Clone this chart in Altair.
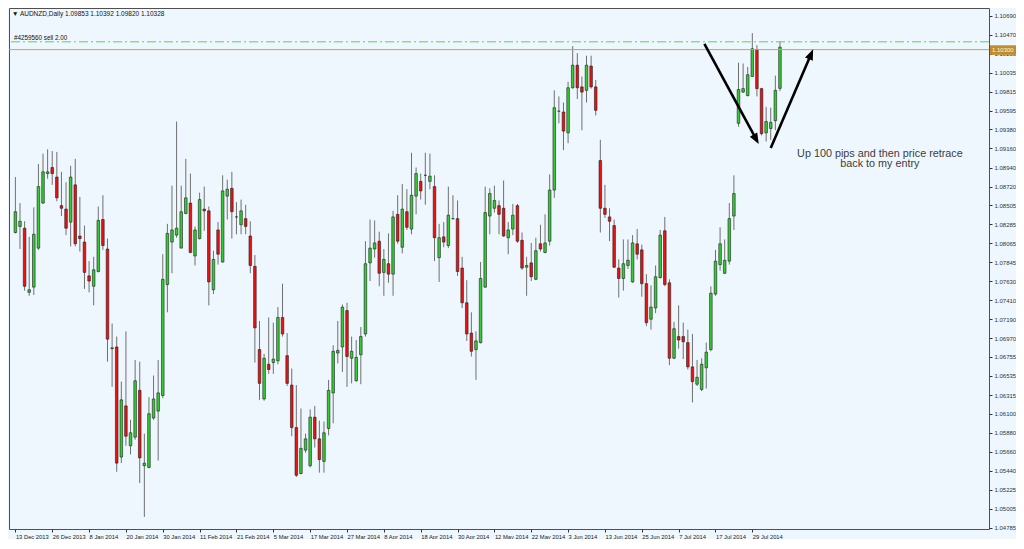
import altair as alt
import pandas as pd
import numpy as np

# ---- data (AUDNZD daily candles) ----
opens = [1.0819,1.0826,1.0824,1.0750,1.0756,1.0801,1.0853,1.0887,1.0894,1.0883,
         1.0850,1.0846,1.0831,1.0874,1.0815,1.0808,1.0769,1.0757,1.0774,1.0834,
         1.0800,1.0685,1.0687,1.0560,1.0619,1.0573,1.0583,1.0637,1.0550,1.0548,
         1.0605,1.0613,1.0631,1.0759,1.0808,1.0816,1.0801,1.0841,1.0853,1.0792,
         1.0812,1.0846,1.0844,1.0753,1.0822,1.0785,1.0861,1.0870,1.0837,1.0828,
         1.0835,1.0815,1.0780,1.0684,1.0627,1.0667,1.0669,1.0671,1.0721,1.0677,
         1.0643,1.0594,1.0541,1.0568,1.0550,1.0606,1.0581,1.0555,1.0593,1.0634,
         1.0680,1.0687,1.0729,1.0674,1.0648,1.0678,1.0702,1.0784,1.0800,1.0809,
         1.0773,1.0783,1.0771,1.0840,1.0802,1.0843,1.0823,1.0861,1.0878,1.0885,
         1.0878,1.0872,1.0790,1.0814,1.0804,1.0835,1.0835,1.0778,1.0738,1.0703,
         1.0684,1.0692,1.0756,1.0838,1.0847,1.0850,1.0847,1.0813,1.0823,1.0850,
         1.0810,1.0779,1.0784,1.0765,1.0806,1.0796,1.0809,1.0868,1.0959,1.0958,
         1.0934,1.0986,1.1012,1.0987,1.0983,1.1011,1.0987,1.0902,1.0847,1.0837,
         1.0827,1.0778,1.0766,1.0781,1.0762,1.0806,1.0799,1.0760,1.0719,1.0732,
         1.0767,1.0821,1.0761,1.0674,1.0699,1.0699,1.0692,1.0664,1.0644,1.0638,
         1.0663,1.0684,1.0748,1.0782,1.0772,1.0786,1.0838,1.0945,1.0981,1.0977,
         1.0999,1.1030,1.0985,1.0934,1.0939,1.0948,1.09853]
highs = [1.0883,1.0853,1.0832,1.0814,1.0848,1.0898,1.0910,1.0915,1.0913,1.0912,
         1.0889,1.0877,1.0896,1.0904,1.0860,1.0827,1.0786,1.0791,1.0849,1.0862,
         1.0812,1.0714,1.0699,1.0647,1.0705,1.0603,1.0672,1.0670,1.0587,1.0629,
         1.0654,1.0672,1.0794,1.0829,1.0873,1.0947,1.0873,1.0904,1.0887,1.0826,
         1.0865,1.0872,1.0849,1.0798,1.0831,1.0885,1.0880,1.0889,1.0854,1.0857,
         1.0851,1.0832,1.0793,1.0717,1.0679,1.0721,1.0715,1.0733,1.0760,1.0703,
         1.0662,1.0643,1.0616,1.0587,1.0615,1.0619,1.0602,1.0601,1.0649,1.0689,
         1.0717,1.0736,1.0738,1.0699,1.0695,1.0710,1.0809,1.0834,1.0833,1.0820,
         1.0800,1.0818,1.0844,1.0862,1.0875,1.0869,1.0911,1.0894,1.0887,1.0911,
         1.0910,1.0885,1.0829,1.0831,1.0872,1.0862,1.0856,1.0791,1.0764,1.0727,
         1.0705,1.0785,1.0872,1.0870,1.0873,1.0856,1.0879,1.0831,1.0852,1.0852,
         1.0819,1.0791,1.0807,1.0813,1.0828,1.0840,1.0886,1.0983,1.0976,1.0969,
         1.0993,1.1034,1.1026,1.0999,1.1023,1.1023,1.0995,1.0926,1.0874,1.0847,
         1.0834,1.0788,1.0811,1.0811,1.0816,1.0823,1.0805,1.0771,1.0758,1.0781,
         1.0822,1.0837,1.0765,1.0716,1.0735,1.0715,1.0707,1.0702,1.0672,1.0674,
         1.0692,1.0757,1.0799,1.0825,1.0811,1.0853,1.0885,1.1015,1.1014,1.1010,
         1.1049,1.1035,1.0986,1.0964,1.0963,1.1000,1.10392]
lows = [1.0818,1.0800,1.0752,1.0746,1.0747,1.0799,1.0852,1.0881,1.0874,1.0855,
        1.0838,1.0816,1.0803,1.0803,1.0797,1.0754,1.0750,1.0735,1.0773,1.0799,
        1.0670,1.0641,1.0543,1.0553,1.0573,1.0563,1.0580,1.0530,1.0491,1.0547,
        1.0603,1.0556,1.0628,1.0727,1.0772,1.0813,1.0801,1.0840,1.0795,1.0781,
        1.0811,1.0821,1.0735,1.0748,1.0782,1.0784,1.0834,1.0812,1.0817,1.0817,
        1.0817,1.0772,1.0669,1.0626,1.0625,1.0656,1.0656,1.0667,1.0699,1.0642,
        1.0584,1.0537,1.0540,1.0565,1.0548,1.0571,1.0542,1.0542,1.0585,1.0599,
        1.0668,1.0658,1.0641,1.0645,1.0647,1.0644,1.0699,1.0763,1.0790,1.0757,
        1.0746,1.0761,1.0746,1.0806,1.0795,1.0822,1.0817,1.0840,1.0857,1.0851,
        1.0869,1.0786,1.0762,1.0802,1.0801,1.0834,1.0769,1.0732,1.0694,1.0676,
        1.0649,1.0691,1.0755,1.0817,1.0842,1.0817,1.0814,1.0794,1.0816,1.0807,
        1.0776,1.0746,1.0763,1.0764,1.0797,1.0795,1.0804,1.0859,1.0945,1.0914,
        1.0922,1.0985,1.0973,1.0937,1.0969,1.0985,1.0954,1.0819,1.0836,1.0809,
        1.0778,1.0744,1.0752,1.0777,1.0761,1.0788,1.0745,1.0711,1.0707,1.0726,
        1.0766,1.0757,1.0666,1.0673,1.0685,1.0673,1.0661,1.0623,1.0642,1.0636,
        1.0639,1.0682,1.0746,1.0775,1.0771,1.0782,1.0822,1.0941,1.0980,1.0976,
        1.0999,1.0976,1.0931,1.0924,1.0926,1.0937,1.09820]
closes = [1.0843,1.0832,1.0757,1.0753,1.0817,1.0872,1.0889,1.0889,1.0887,1.0859,
          1.0847,1.0824,1.0883,1.0806,1.0812,1.0773,1.0763,1.0776,1.0833,1.0804,
          1.0696,1.0686,1.0553,1.0626,1.0584,1.0588,1.0648,1.0559,1.0553,1.0610,
          1.0627,1.0634,1.0765,1.0818,1.0822,1.0824,1.0843,1.0859,1.0796,1.0822,
          1.0857,1.0844,1.0762,1.0788,1.0794,1.0867,1.0869,1.0843,1.0837,1.0844,
          1.0826,1.0781,1.0709,1.0645,1.0674,1.0661,1.0673,1.0721,1.0702,1.0645,
          1.0594,1.0539,1.0570,1.0581,1.0606,1.0581,1.0557,1.0588,1.0637,1.0682,
          1.0683,1.0733,1.0676,1.0682,1.0675,1.0699,1.0783,1.0801,1.0807,1.0772,
          1.0788,1.0771,1.0837,1.0809,1.0846,1.0825,1.0862,1.0887,1.0867,1.0885,
          1.0884,1.0813,1.0813,1.0808,1.0839,1.0835,1.0774,1.0738,1.0702,1.0682,
          1.0694,1.0766,1.0842,1.0864,1.0856,1.0840,1.0815,1.0822,1.0839,1.0809,
          1.0778,1.0781,1.0768,1.0798,1.0800,1.0807,1.0868,1.0963,1.0959,1.0936,
          1.0986,1.1012,1.0986,1.0981,1.1012,1.0987,1.0960,1.0847,1.0840,1.0832,
          1.0779,1.0766,1.0783,1.0787,1.0807,1.0794,1.0760,1.0715,1.0733,1.0768,
          1.0816,1.0759,1.0674,1.0708,1.0695,1.0693,1.0664,1.0647,1.0652,1.0667,
          1.0681,1.0749,1.0786,1.0806,1.0787,1.0835,1.0864,1.0984,1.0985,1.1001,
          1.1031,1.0985,1.0933,1.0947,1.0946,1.0983,1.10328]

date_labels = ["13 Dec 2013", "26 Dec 2013", "8 Jan 2014", "20 Jan 2014", "30 Jan 2014",
               "11 Feb 2014", "21 Feb 2014", "5 Mar 2014", "17 Mar 2014", "27 Mar 2014",
               "8 Apr 2014", "18 Apr 2014", "30 Apr 2014", "12 May 2014", "22 May 2014",
               "3 Jun 2014", "13 Jun 2014", "25 Jun 2014", "7 Jul 2014", "17 Jul 2014",
               "29 Jul 2014"]
date_ticks = [0, 8, 16, 24, 32, 40, 48, 56, 64, 72, 80, 88, 96, 104, 112, 120,
              128, 136, 144, 152, 160]
price_ticks = [1.10690, 1.10470, 1.10250, 1.10035, 1.09815, 1.09595, 1.09380, 1.09160,
               1.08940, 1.08720, 1.08505, 1.08285, 1.08065, 1.07845, 1.07630, 1.07410,
               1.07190, 1.06970, 1.06755, 1.06535, 1.06315, 1.06100, 1.05880, 1.05660,
               1.05440, 1.05225, 1.05005, 1.04785]

order_price = [1.1039]
entry_price = [1.1030]
bid_price = [1.10328]
arrow_x1 = [149.6, 164.0]
arrow_y1 = [1.10365, 1.09165]
arrow_x2 = [160.8, 172.7]
arrow_y2 = [1.09271, 1.10241]
head_x = [161.4, 173.2]
head_y = [1.09210, 1.10305]
head_angle = [151, 23]
note_lines = ["Up 100 pips and then price retrace", "back to my entry"]
note_x = [187.7, 187.7]
note_y = [1.09098, 1.08975]

W, H = 980, 521
BG = "#eff7fe"
FONT = "Liberation Sans"

df = pd.DataFrame({"i": list(range(len(opens))), "o": opens, "h": highs,
                   "l": lows, "c": closes})
df["dir"] = np.where(df["c"] >= df["o"], "up", "down")

xs = alt.Scale(domain=[-0.3, 210.3], nice=False, zero=False)
ys = alt.Scale(domain=[1.04770, 1.10780], nice=False, zero=False)

label_js = "[" + ",".join("'" + d + "'" for d in date_labels) + "][round(datum.value/8)]"

x_axis = alt.Axis(
    values=date_ticks, labelExpr=label_js, orient="bottom", title=None,
    grid=False, domain=False, tickSize=3, tickColor="#333333",
    labelAlign="left", labelFontSize=5.8, labelPadding=1, labelColor="#222222",
    labelFont=FONT, labelOverlap=False, labelFlush=False)
y_axis = alt.Axis(
    values=price_ticks, format=".5f", orient="right", title=None, grid=False,
    domain=False, tickSize=3, tickColor="#333333", labelFontSize=6,
    labelPadding=2, labelColor="#2a3440", labelFont=FONT, labelOverlap=False,
    labelFlush=False)


def X(field):
    return alt.X(field, scale=xs, axis=x_axis)


def Y(field):
    return alt.Y(field, scale=ys, axis=y_axis)


base = alt.Chart(df)
wicks = base.mark_rule(color="#6f6f6f", strokeWidth=1).encode(
    x=X("i:Q"), y=Y("l:Q"), y2="h:Q")
bodies = base.mark_bar(size=2.6, stroke="#1e1e1e", strokeWidth=0.6).encode(
    x=X("i:Q"), y=Y("o:Q"), y2="c:Q",
    color=alt.Color("dir:N", scale=alt.Scale(domain=["up", "down"],
                                             range=["#33cc33", "#ee1111"]), legend=None),
)

order_df = pd.DataFrame({"p": order_price})
entry_df = pd.DataFrame({"p": entry_price})
bid_df = pd.DataFrame({"p": bid_price})
order_line = alt.Chart(order_df).mark_rule(color="#55d655", strokeWidth=1,
                                           strokeDash=[9, 3, 2, 3]).encode(y=Y("p:Q"))
order_text = alt.Chart(order_df).mark_text(
    text="#4259560 sell 2.00", align="left", baseline="bottom", dy=-1,
    fontSize=6.3, font=FONT, color="#111111").encode(x=alt.value(5), y=Y("p:Q"))
entry_line = alt.Chart(entry_df).mark_rule(color="#cfa24c", strokeWidth=1).encode(
    y=Y("p:Q"))
bid_mark = alt.Chart(bid_df).transform_calculate(
    top="datum.p + 0.0001", bot="datum.p - 0.0001").mark_rect(color="#111111").encode(
    x=alt.value(W + 1), x2=alt.value(W + 27), y=Y("top:Q"), y2="bot:Q")
entry_box = alt.Chart(entry_df).transform_calculate(
    top="datum.p + 0.0005", bot="datum.p - 0.0006").mark_rect(color="#c08d2c").encode(
    x=alt.value(W + 1), x2=alt.value(W + 27), y=Y("top:Q"), y2="bot:Q")
entry_lbl = alt.Chart(entry_df).mark_text(
    text="1.10300", align="left", baseline="middle", fontSize=6, font=FONT,
    color="#fff6e0").encode(x=alt.value(W + 3), y=Y("p:Q"))

arrow_df = pd.DataFrame({"x1": arrow_x1, "y1": arrow_y1, "x2": arrow_x2, "y2": arrow_y2})
arrows = alt.Chart(arrow_df).mark_rule(color="#000000", strokeWidth=2.6).encode(
    x=X("x1:Q"), y=Y("y1:Q"), x2="x2:Q", y2="y2:Q")
head_df = pd.DataFrame({"x": head_x, "y": head_y, "a": head_angle})
heads = alt.Chart(head_df).mark_point(
    shape="M0,0L0.7,1.8L-0.7,1.8Z", filled=True, color="#000000", opacity=1,
    size=144).encode(x=X("x:Q"), y=Y("y:Q"), angle=alt.Angle("a:Q", scale=None))

note_df = pd.DataFrame({"x": note_x, "y": note_y, "t": note_lines})
notes = alt.Chart(note_df).mark_text(
    align="center", baseline="middle", fontSize=10.8, font=FONT, color="#3c3c3c").encode(
    x=X("x:Q"), y=Y("y:Q"), text="t:N")

title_df = pd.DataFrame({"t": ["\u25bc AUDNZD,Daily  1.09853 1.10392 1.09820 1.10328"]})
title = alt.Chart(title_df).mark_text(
    align="left", baseline="middle", fontSize=6.5, font=FONT, color="#111111").encode(
    x=alt.value(3), y=alt.value(6), text="t:N")

chart = alt.layer(
    wicks, bodies, order_line, entry_line, order_text, bid_mark, entry_box, entry_lbl,
    arrows, heads, notes, title
).properties(
    width=W, height=H,
    padding={"left": 0, "top": 0, "right": 0, "bottom": 0},
).configure(background=BG).configure_view(fill=BG, stroke="#505050", strokeWidth=1)

chart.save("out.html", embed_options={"renderer": "svg", "actions": False})
